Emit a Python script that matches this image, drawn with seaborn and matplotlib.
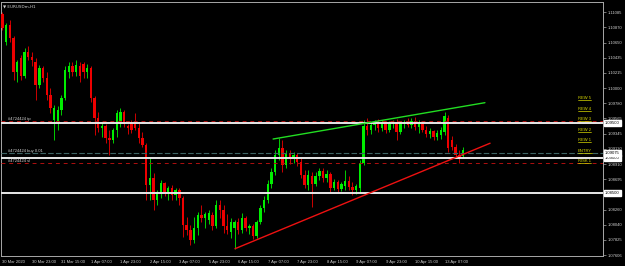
import numpy as np
import pandas as pd
import matplotlib
matplotlib.use("Agg")
import matplotlib.pyplot as plt
import matplotlib.transforms as mtransforms
import seaborn as sns

# ---------------- data (EURUSDm, 2-hour sampling of the H1 chart) ----------------
open_ = [1.1106, 1.1066, 1.1090, 1.1072, 1.1023, 1.1043, 1.1017, 1.1051, 1.1044, 1.1037,
         1.1004, 1.1029, 1.1014, 1.0990, 1.0954, 1.0951, 1.0969, 1.0986, 1.1023, 1.1031,
         1.1023, 1.1031, 1.1034, 1.1023, 1.1029, 1.0986, 1.0957, 1.0943, 1.0946, 1.0928,
         1.0926, 1.0940, 1.0948, 1.0966, 1.0946, 1.0948, 1.0948, 1.0943, 1.0928, 1.0918,
         1.0861, 1.0871, 1.0840, 1.0848, 1.0864, 1.0851, 1.0857, 1.0847, 1.0854, 1.0843,
         1.0804, 1.0797, 1.0782, 1.0800, 1.0818, 1.0814, 1.0811, 1.0818, 1.0802, 1.0833,
         1.0825, 1.0802, 1.0794, 1.0800, 1.0808, 1.0797, 1.0814, 1.0800, 1.0802, 1.0788,
         1.0808, 1.0828, 1.0840, 1.0863, 1.0880, 1.0904, 1.0914, 1.0890, 1.0907, 1.0900,
         1.0904, 1.0894, 1.0876, 1.0861, 1.0874, 1.0863, 1.0874, 1.0881, 1.0871, 1.0877,
         1.0857, 1.0866, 1.0855, 1.0860, 1.0867, 1.0858, 1.0854, 1.0857, 1.0893, 1.0946,
         1.0940, 1.0947, 1.0948, 1.0943, 1.0950, 1.0940, 1.0948, 1.0951, 1.0937, 1.0948,
         1.0951, 1.0947, 1.0953, 1.0944, 1.0948, 1.0940, 1.0934, 1.0939, 1.0930, 1.0933,
         1.0937, 1.0957, 1.0926, 1.0916, 1.0904, 1.0902]
high = [1.1109, 1.1093, 1.1097, 1.1074, 1.1040, 1.1047, 1.1057, 1.1060, 1.1051, 1.1043,
        1.1033, 1.1031, 1.1023, 1.1000, 1.0976, 1.0974, 1.0990, 1.1031, 1.1037, 1.1037,
        1.1040, 1.1037, 1.1037, 1.1034, 1.1031, 1.0989, 1.0966, 1.0951, 1.0948, 1.0940,
        1.0943, 1.0969, 1.0971, 1.0969, 1.0948, 1.0954, 1.0964, 1.0951, 1.0937, 1.0921,
        1.0900, 1.0878, 1.0854, 1.0868, 1.0866, 1.0860, 1.0861, 1.0857, 1.0857, 1.0845,
        1.0815, 1.0804, 1.0815, 1.0822, 1.0833, 1.0822, 1.0825, 1.0822, 1.0840, 1.0840,
        1.0833, 1.0820, 1.0814, 1.0811, 1.0814, 1.0821, 1.0817, 1.0805, 1.0805, 1.0811,
        1.0833, 1.0845, 1.0868, 1.0886, 1.0911, 1.0928, 1.0926, 1.0911, 1.0911, 1.0908,
        1.0907, 1.0900, 1.0883, 1.0883, 1.0880, 1.0880, 1.0886, 1.0886, 1.0883, 1.0880,
        1.0870, 1.0868, 1.0866, 1.0883, 1.0874, 1.0866, 1.0863, 1.0897, 1.0954, 1.0957,
        1.0951, 1.0954, 1.0955, 1.0954, 1.0953, 1.0953, 1.0954, 1.0955, 1.0953, 1.0954,
        1.0957, 1.0957, 1.0958, 1.0954, 1.0951, 1.0946, 1.0943, 1.0940, 1.0940, 1.0944,
        1.0966, 1.0961, 1.0931, 1.0920, 1.0911, 1.0916]
low = [1.1083, 1.1062, 1.1066, 1.1011, 1.1009, 1.1011, 1.1014, 1.1040, 1.1031, 1.0983,
       1.1000, 1.1009, 1.0983, 1.0964, 1.0926, 1.0940, 1.0961, 1.0983, 1.1014, 1.1017,
       1.1017, 1.1009, 1.1014, 1.1014, 1.0980, 1.0933, 1.0937, 1.0930, 1.0921, 1.0904,
       1.0921, 1.0930, 1.0944, 1.0944, 1.0934, 1.0936, 1.0940, 1.0921, 1.0916, 1.0840,
       1.0840, 1.0825, 1.0833, 1.0843, 1.0845, 1.0840, 1.0840, 1.0840, 1.0833, 1.0787,
       1.0790, 1.0775, 1.0778, 1.0790, 1.0808, 1.0800, 1.0805, 1.0797, 1.0800, 1.0814,
       1.0792, 1.0791, 1.0785, 1.0770, 1.0791, 1.0792, 1.0795, 1.0791, 1.0784, 1.0785,
       1.0805, 1.0822, 1.0835, 1.0857, 1.0876, 1.0897, 1.0880, 1.0886, 1.0891, 1.0893,
       1.0888, 1.0871, 1.0857, 1.0854, 1.0830, 1.0860, 1.0868, 1.0866, 1.0866, 1.0851,
       1.0854, 1.0851, 1.0853, 1.0854, 1.0854, 1.0847, 1.0848, 1.0850, 1.0890, 1.0933,
       1.0934, 1.0940, 1.0937, 1.0939, 1.0936, 1.0937, 1.0943, 1.0926, 1.0934, 1.0943,
       1.0944, 1.0943, 1.0940, 1.0936, 1.0937, 1.0930, 1.0928, 1.0926, 1.0926, 1.0927,
       1.0933, 1.0908, 1.0911, 1.0900, 1.0893, 1.0900]
close = [1.1086, 1.1090, 1.1072, 1.1023, 1.1037, 1.1017, 1.1051, 1.1044, 1.1040, 1.1004,
         1.1029, 1.1014, 1.0990, 1.0971, 1.0971, 1.0969, 1.0986, 1.1026, 1.1031, 1.1023,
         1.1033, 1.1017, 1.1023, 1.1029, 1.0986, 1.0957, 1.0943, 1.0946, 1.0928, 1.0926,
         1.0940, 1.0964, 1.0966, 1.0948, 1.0943, 1.0940, 1.0943, 1.0928, 1.0918, 1.0861,
         1.0871, 1.0840, 1.0851, 1.0864, 1.0851, 1.0857, 1.0847, 1.0854, 1.0843, 1.0804,
         1.0797, 1.0782, 1.0800, 1.0818, 1.0814, 1.0820, 1.0821, 1.0802, 1.0833, 1.0825,
         1.0802, 1.0797, 1.0808, 1.0808, 1.0797, 1.0814, 1.0800, 1.0802, 1.0788, 1.0808,
         1.0828, 1.0840, 1.0863, 1.0880, 1.0904, 1.0914, 1.0890, 1.0907, 1.0900, 1.0904,
         1.0894, 1.0876, 1.0861, 1.0876, 1.0863, 1.0874, 1.0881, 1.0871, 1.0877, 1.0857,
         1.0866, 1.0855, 1.0863, 1.0867, 1.0858, 1.0854, 1.0860, 1.0893, 1.0946, 1.0940,
         1.0947, 1.0951, 1.0943, 1.0950, 1.0940, 1.0948, 1.0951, 1.0937, 1.0948, 1.0951,
         1.0947, 1.0953, 1.0944, 1.0948, 1.0940, 1.0934, 1.0939, 1.0930, 1.0936, 1.0940,
         1.0960, 1.0914, 1.0916, 1.0904, 1.0900, 1.0911]
bar_hours = list(range(0, 2 * len(close), 2))

x_tick_hours = [0, 16, 32, 48, 64, 80, 96, 112, 128, 144, 160, 176, 192, 208, 224, 240]
x_tick_labels = ["30 Mar 2020", "30 Mar 23:00", "31 Mar 15:00", "1 Apr 07:00", "1 Apr 23:00",
                 "2 Apr 15:00", "3 Apr 07:00", "5 Apr 23:00", "6 Apr 15:00", "7 Apr 07:00",
                 "7 Apr 23:00", "8 Apr 15:00", "9 Apr 07:00", "9 Apr 23:00", "10 Apr 15:00",
                 "13 Apr 07:00"]
y_tick_values = [1.11085, 1.10870, 1.10650, 1.10435, 1.10215, 1.10000, 1.09780, 1.09565,
                 1.09345, 1.09130, 1.08910, 1.08695, 1.08480, 1.08260, 1.08040, 1.07825,
                 1.07606]
# tick labels hidden behind the price boxes in the reference
y_hidden_labels = [1.08480]

level_prices = [1.09500, 1.09000, 1.08500]
level_boxes = ["1.09500", "1.09000", "1.08500"]
tp_price, entry_price, sl_price = 1.09523, 1.09073, 1.08921
entry_box = "1.09075"
order_labels = ["#4724424 tp", "#4724424 buy 0.01", "#4724424 sl"]
rew_labels = ["REW 5", "REW 4", "REW 3", "REW 2", "REW 1", "ENTRY", "RISK 1"]
rew_prices = [1.09823, 1.09673, 1.09523, 1.09373, 1.09223, 1.09073, 1.08921]
green_trend_hours = [146.9, 261.9]
green_trend_prices = [1.0927, 1.0979]
red_trend_hours = [126.2, 264.7]
red_trend_prices = [1.0770, 1.0921]

# ---------------- figure ----------------
sns.set_theme(style="dark")
plt.rcParams["font.family"] = ["Liberation Sans", "DejaVu Sans"]
FS = 3.0
GRID = "#a8a8a8"
TXT = "#d0d0d0"

W, H = 625, 266
fig = plt.figure(figsize=(W / 100, H / 100), dpi=100, facecolor="black")
ax = fig.add_axes([1 / W, (H - 256) / H, 602 / W, 254 / H])
ax.set_facecolor("black")
ax.set_xlim(-0.81, 326)
ax.set_ylim(1.07596, 1.11231)
ax.grid(False)

df = pd.DataFrame({"t": bar_hours, "o": open_, "h": high, "l": low, "c": close})
df["up"] = df["c"] >= df["o"]
col = np.where(df["up"], "#00ee00", "#ee0000")

ax.vlines(df["t"], df["l"], df["h"], colors=col, lw=0.6, zorder=2)
body_bot = np.minimum(df["o"], df["c"])
body_h = np.maximum(np.abs(df["c"] - df["o"]), 0.00006)
ax.bar(df["t"], body_h, bottom=body_bot, width=1.3, color=col, lw=0, zorder=3)

# horizontal levels
for p in level_prices:
    ax.axhline(p, color="#e8e8e8", lw=1.4, zorder=5)
ax.axhline(tp_price, color="#b01010", lw=0.7, ls=(0, (4, 4)), zorder=4)
ax.axhline(sl_price, color="#b01010", lw=0.7, ls=(0, (4, 4)), zorder=4)
ax.axhline(entry_price, color="#3d6363", lw=0.8, ls=(0, (5, 2)), zorder=4)

for lbl, p in zip(order_labels, [tp_price, entry_price, sl_price]):
    ax.text(3, p + 0.00003, lbl, fontsize=FS, color=TXT, va="bottom", ha="left", zorder=6)

# trend lines
tr = pd.DataFrame({"t": green_trend_hours + red_trend_hours,
                   "p": green_trend_prices + red_trend_prices,
                   "line": ["g", "g", "r", "r"]})
sns.lineplot(data=tr, x="t", y="p", hue="line", palette={"g": "#22dd22", "r": "#ee1111"},
             lw=1.0, legend=False, ax=ax, zorder=6)
ax.set_xlabel("")
ax.set_ylabel("")

# REW labels
for lbl, p in zip(rew_labels, rew_prices):
    ax.text(312.4, p + 0.00004, lbl, fontsize=FS, color="#d8d800", va="bottom",
            ha="left", zorder=7)
fig.canvas.draw()
r = fig.canvas.get_renderer()
inv = ax.transData.inverted()
for tx in list(ax.texts):
    if tx.get_text() in rew_labels:
        bb = tx.get_window_extent(r)
        x0 = inv.transform((bb.x0, bb.y0))[0]
        x1 = inv.transform((bb.x1, bb.y0))[0]
        p = tx.get_position()[1] - 0.00003
        ax.plot([x0, x1], [p, p], color="#d8d800", lw=0.5, zorder=7)

# axes styling
for s in ax.spines.values():
    s.set_color(GRID)
    s.set_linewidth(0.7)
ax.yaxis.tick_right()
ax.set_yticks(y_tick_values)
ax.set_yticklabels(["" if v in y_hidden_labels else f"{v:.5f}" for v in y_tick_values])
ax.set_xticks(x_tick_hours)
ax.set_xticklabels(x_tick_labels)
ax.tick_params(axis="both", colors=GRID, labelcolor=TXT, labelsize=FS, length=2,
               width=0.5, direction="out", pad=1.2)
ax.tick_params(axis="y", left=False, right=True)
for lbl in ax.get_xticklabels():
    lbl.set_ha("left")

# price boxes on the axis
trans = mtransforms.blended_transform_factory(ax.transAxes, ax.transData)
for txt, p in zip(level_boxes + [entry_box], level_prices + [entry_price]):
    ax.text(1.0035, p, txt, transform=trans, fontsize=FS, color="black", va="center",
            ha="left", zorder=10, clip_on=False,
            bbox=dict(boxstyle="square,pad=0.25", fc="white", ec="white"))

# title
ax.text(0.004, 0.992, "▼ EURUSDm,H1", transform=ax.transAxes, fontsize=FS,
        color=TXT, va="top", ha="left", family=["DejaVu Sans"])

fig.savefig("out.png", dpi=100, facecolor="black")
